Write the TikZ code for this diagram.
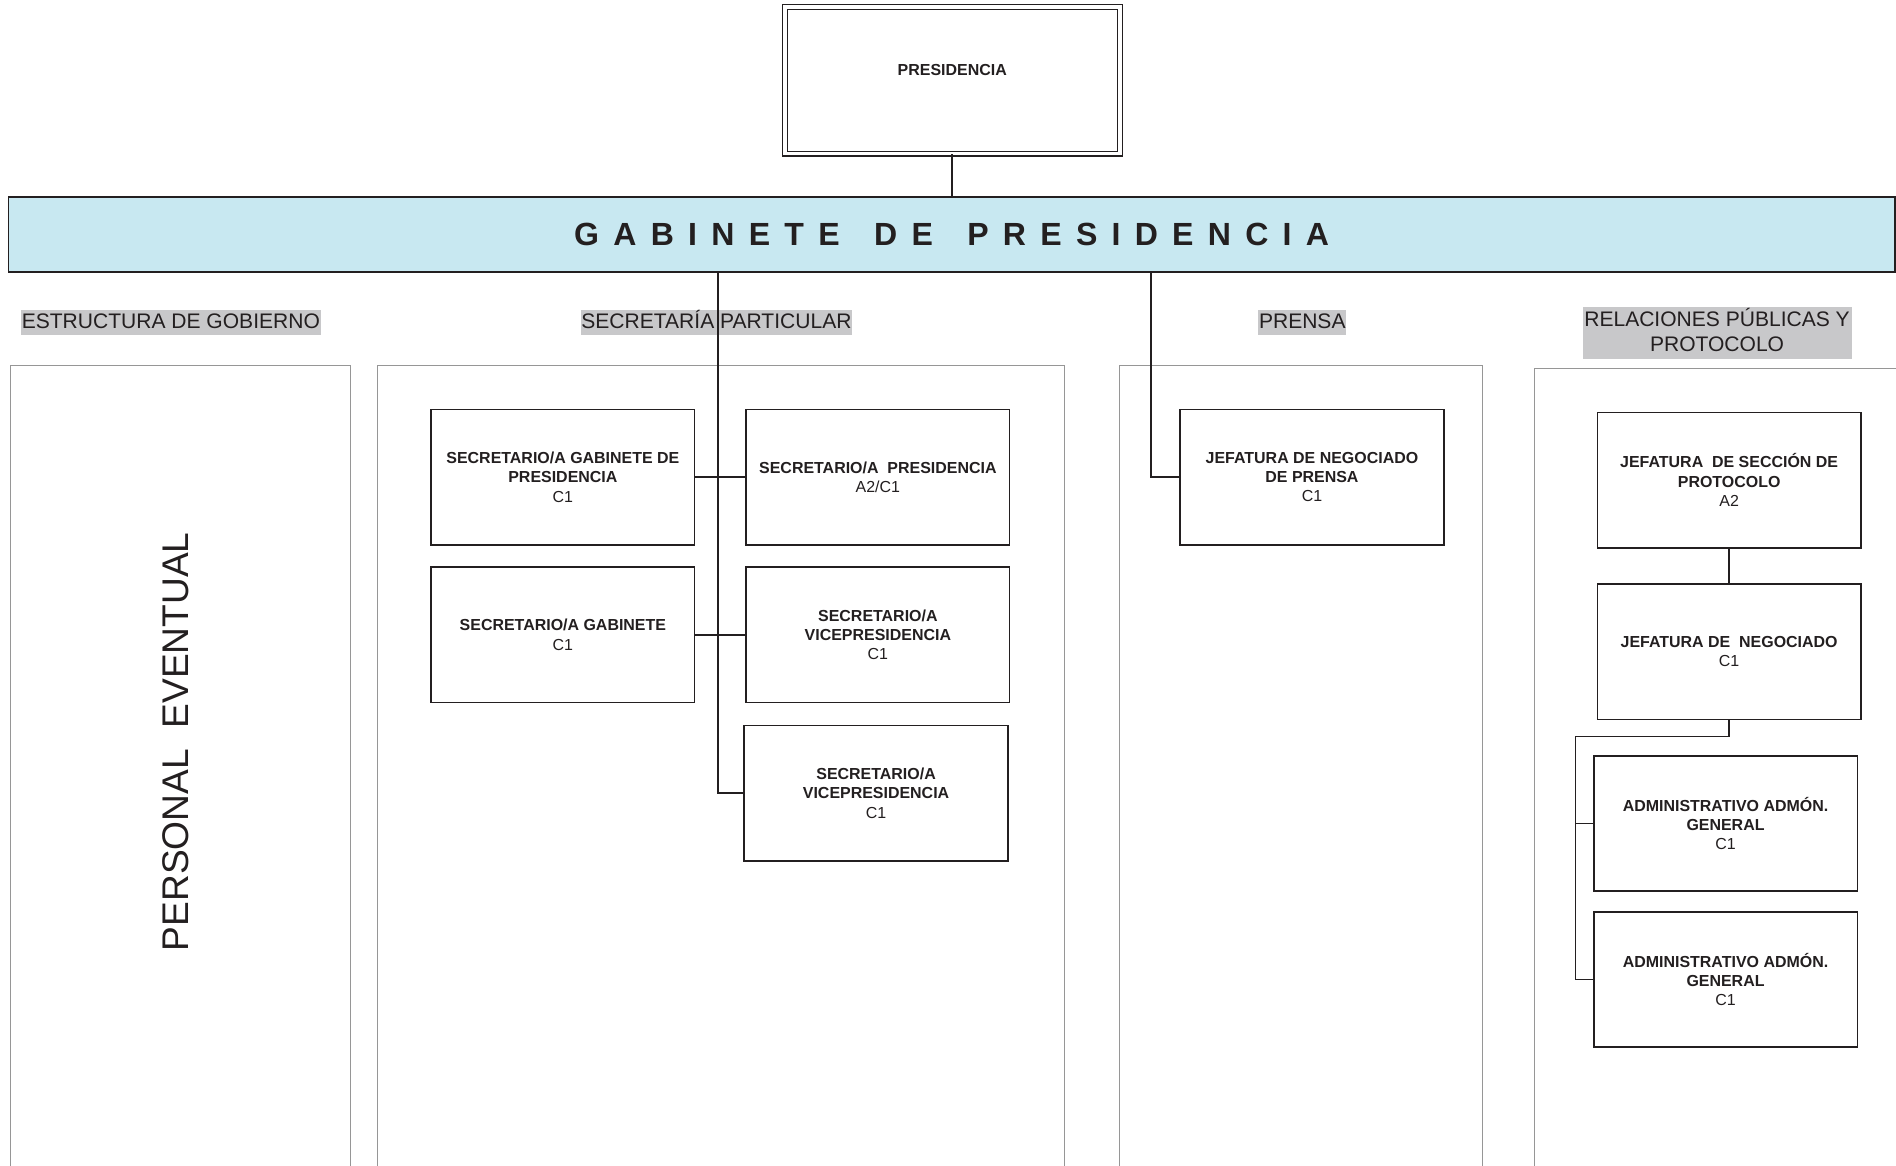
\documentclass[tikz,border=0pt]{standalone}
\usepackage{fontspec}
\setmainfont{Liberation Sans}
\definecolor{barblue}{RGB}{200,232,241}
\definecolor{hlgray}{RGB}{200,200,202}
\definecolor{ink}{RGB}{35,31,32}
\definecolor{panelgray}{RGB}{150,150,150}
\newcommand\lsk{\hspace{11.8pt}}
\newcommand\wsk{\hspace{28.5pt}}
\begin{document}
\begin{tikzpicture}[x=1pt,y=-1pt,
  pbox/.style={draw=ink, line width=1.3pt, minimum width=218pt, minimum height=112pt, inner sep=0pt, align=center, font=\fontsize{13.2}{16}\selectfont, text=ink},
  conn/.style={draw=ink, line width=1.3pt},
  panel/.style={draw=panelgray, line width=0.9pt},
  hdrtext/.style={text=ink, font=\fontsize{17.4}{20.6}\selectfont, inner sep=0pt, anchor=base},
  hdr/.style={hdrtext, fill=hlgray, inner xsep=0.5pt, inner ysep=0pt, text height=15pt, text depth=5.5pt}]
\useasboundingbox[fill=white] (0,0) rectangle (1568,964);

% panels
\draw[panel] (9,975) -- (9,302) -- (290,302) -- (290,975);
\draw[panel] (312,975) -- (312,302) -- (880,302) -- (880,975);
\draw[panel] (926,975) -- (926,302) -- (1226,302) -- (1226,975);
\draw[panel] (1269,975) -- (1269,305) -- (1575,305);

% top
\node[draw=ink, line width=1pt, double=white, double distance=3pt, minimum width=277pt, minimum height=121pt, inner sep=0pt, text=ink, font=\fontsize{13.2}{16}\selectfont\bfseries] (pres) at (787.5,66.5) {\raisebox{3.8pt}[0pt][0pt]{PRESIDENCIA}};

\node[draw=ink, line width=1.3pt, fill=barblue, minimum width=1560pt, minimum height=62pt, inner sep=0pt, text=ink, font=\fontsize{26.5}{30}\selectfont\bfseries] (bar) at (787,194)
 {G\lsk A\lsk B\lsk I\lsk N\lsk E\lsk T\lsk E\wsk D\lsk E\wsk P\lsk R\lsk E\lsk S\lsk I\lsk D\lsk E\lsk N\lsk C\lsk I\lsk A};

% headers
\node[hdr] (h1) at (141.3,271.5) {ESTRUCTURA DE GOBIERNO};
\node[hdr] (h2) at (592.5,271.5) {SECRETARÍA PARTICULAR};
\node[hdr] (h3) at (1077,271.5) {PRENSA};
\fill[hlgray] (1309,254) rectangle (1531.6,297);
\node[hdrtext] (h4a) at (1420,270.2) {RELACIONES PÚBLICAS Y};
\node[hdrtext] (h4b) at (1420,290.8) {PROTOCOLO};

\node[rotate=90, text=ink, font=\fontsize{30.7}{34}\selectfont, inner sep=0pt] (pe) at (145.5,613.5) {PERSONAL\ \ EVENTUAL};

% secretaria boxes
\node[pbox] (B1) at (465.5,394.5) {\textbf{SECRETARIO/A GABINETE DE}\\\textbf{PRESIDENCIA}\\C1};
\node[pbox] (B2) at (726,394.5) {\textbf{SECRETARIO/A\ \ PRESIDENCIA}\\A2/C1};
\node[pbox] (B3) at (465.5,525) {\textbf{SECRETARIO/A GABINETE}\\C1};
\node[pbox] (B4) at (726,525) {\textbf{SECRETARIO/A}\\\textbf{VICEPRESIDENCIA}\\C1};
\node[pbox] (B5) at (724.5,656) {\textbf{SECRETARIO/A}\\\textbf{VICEPRESIDENCIA}\\C1};

% prensa
\node[pbox] (P1) at (1085,394.5) {\textbf{JEFATURA DE NEGOCIADO}\\\textbf{DE PRENSA}\\C1};

% rrpp
\node[pbox] (R1) at (1430,397) {\textbf{JEFATURA\ \ DE SECCIÓN DE}\\\textbf{PROTOCOLO}\\A2};
\node[pbox] (R2) at (1430,539) {\textbf{JEFATURA DE\ \ NEGOCIADO}\\C1};
\node[pbox] (R3) at (1427,681) {\textbf{ADMINISTRATIVO ADMÓN.}\\\textbf{GENERAL}\\C1};
\node[pbox] (R4) at (1427,810) {\textbf{ADMINISTRATIVO ADMÓN.}\\\textbf{GENERAL}\\C1};

% connectors
\draw[conn] (pres.south) -- (pres.south |- bar.north);
\draw[conn] (594,0 |- bar.south) -- (594,0 |- B5.west) -- (B5.west);
\draw[conn] (B1.east) -- (B2.west);
\draw[conn] (B3.east) -- (B4.west);
\draw[conn] (952,0 |- bar.south) -- (952,0 |- P1.west) -- (P1.west);
\draw[conn] (R1.south) -- (R2.north);
\coordinate (rj) at (1303,609);
\draw[conn] (R2.south) -- (R2.south |- rj) -- (rj) -- (rj |- R4.west) -- (R4.west);
\draw[conn] (rj |- R3.west) -- (R3.west);
\end{tikzpicture}
\end{document}
